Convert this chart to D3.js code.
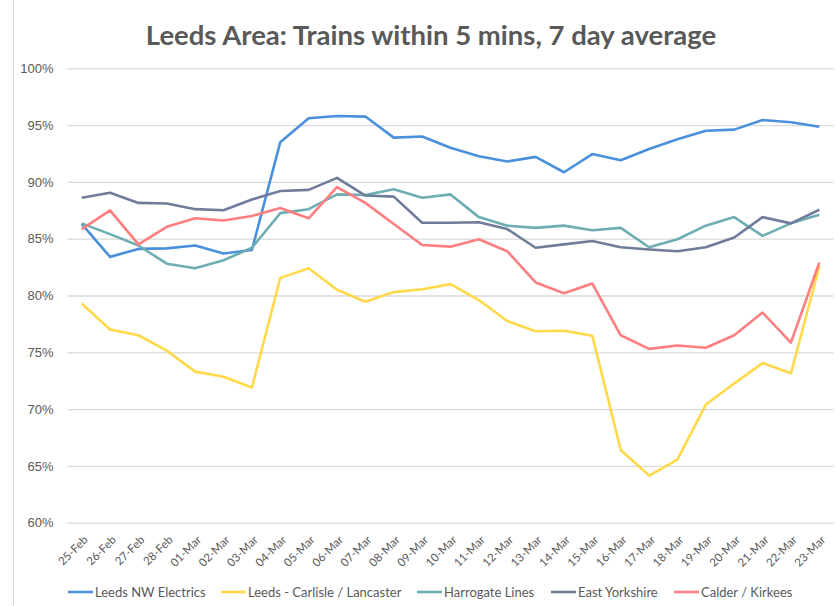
<!DOCTYPE html>
<html>
<head>
<meta charset="utf-8">
<script src="https://cdn.jsdelivr.net/npm/d3@7"></script>
<style>
  body { margin: 0; background: #fff; }
  svg { display: block; font-family: Lato, "Open Sans", sans-serif; }
</style>
</head>
<body>
<div id="chartPlaceholder"></div>
<script>
const dates = ["25-Feb", "26-Feb", "27-Feb", "28-Feb", "01-Mar", "02-Mar", "03-Mar", "04-Mar", "05-Mar",
  "06-Mar", "07-Mar", "08-Mar", "09-Mar", "10-Mar", "11-Mar", "12-Mar", "13-Mar", "14-Mar", "15-Mar",
  "16-Mar", "17-Mar", "18-Mar", "19-Mar", "20-Mar", "21-Mar", "22-Mar", "23-Mar"];

const leedsNW = [86.3, 83.4, 84.1, 84.15, 84.4, 83.7, 84.0, 93.5, 95.6, 95.8, 95.75, 93.9, 94.0, 93.0, 92.25,
  91.8, 92.2, 90.85, 92.45, 91.9, 92.9, 93.75, 94.5, 94.6, 95.45, 95.25, 94.85];
const carlisle = [79.3, 77.0, 76.5, 75.15, 73.3, 72.85, 71.9, 81.55, 82.4, 80.5, 79.45, 80.3, 80.55, 81.0,
  79.6, 77.75, 76.85, 76.9, 76.45, 66.4, 64.15, 65.55, 70.4, 72.25, 74.05, 73.15, 82.55];
const harrogate = [86.35, 85.4, 84.4, 82.8, 82.4, 83.1, 84.2, 87.25, 87.6, 88.9, 88.85, 89.35, 88.6, 88.9,
  86.9, 86.15, 85.95, 86.15, 85.75, 85.95, 84.25, 84.95, 86.15, 86.9, 85.25, 86.35, 87.1];
const eastYorks = [88.6, 89.05, 88.15, 88.1, 87.6, 87.5, 88.45, 89.2, 89.3, 90.35, 88.8, 88.7, 86.4, 86.4,
  86.45, 85.85, 84.2, 84.5, 84.8, 84.25, 84.05, 83.9, 84.25, 85.1, 86.9, 86.35, 87.55];
const calder = [85.85, 87.5, 84.5, 86.05, 86.8, 86.6, 87.0, 87.7, 86.8, 89.55, 88.15, 86.3, 84.45, 84.3,
  84.95, 83.9, 81.15, 80.2, 81.05, 76.5, 75.3, 75.6, 75.4, 76.5, 78.5, 75.85, 82.9];

const seriesNames = ["Leeds NW Electrics", "Leeds - Carlisle / Lancaster", "Harrogate Lines", "East Yorkshire", "Calder / Kirkees"];
const seriesValues = [leedsNW, carlisle, harrogate, eastYorks, calder];
const seriesColors = ["#4a90dc", "#ffd94a", "#6eaeb2", "#6f7d9b", "#ff7e80"];
const yTicks = [60, 65, 70, 75, 80, 85, 90, 95, 100];

const width = 836, height = 606;
const margin = { top: 68.3, right: 2.5, bottom: 606 - 522.7, left: 67.5 };

const svg = d3.select("#chartPlaceholder")
  .append("svg")
  .attr("width", width)
  .attr("height", height);

// chart frame edge on the left
svg.append("line")
  .attr("x1", 13.5).attr("x2", 13.5)
  .attr("y1", 0).attr("y2", height)
  .style("stroke", "#d9d9d9");

svg.append("text")
  .attr("x", 431)
  .attr("y", 45)
  .attr("text-anchor", "middle")
  .style("font-size", "27.5px")
  .style("font-weight", "bold")
  .style("fill", "#595959")
  .text("Leeds Area: Trains within 5 mins, 7 day average");

const x = d3.scalePoint().domain(dates).range([margin.left, width - margin.right]).padding(0.5);
const y = d3.scaleLinear().domain([60, 100]).range([height - margin.bottom, margin.top]);

// gridlines + y labels
const yAxis = svg.append("g")
  .attr("transform", `translate(${margin.left}, 0)`)
  .call(d3.axisLeft(y).tickValues(yTicks).tickFormat((d) => d + "%")
    .tickSize(-(width - margin.left - margin.right)).tickPadding(14));
yAxis.select(".domain").remove();
yAxis.selectAll(".tick line").style("stroke", "#d9d9d9").style("stroke-width", 1.3);
yAxis.selectAll(".tick text").style("font-size", "13px").style("fill", "#595959");

// x labels, rotated
svg.append("g")
  .selectAll("text")
  .data(dates)
  .join("text")
  .attr("transform", (d) => `translate(${x(d) + 4}, ${height - margin.bottom + 15}) rotate(-45)`)
  .attr("text-anchor", "end")
  .attr("dy", "0.35em")
  .style("font-size", "11.5px")
  .style("fill", "#595959")
  .text((d) => d);

const line = d3.line()
  .x((d, i) => x(dates[i]))
  .y((d) => y(d));

svg.append("g")
  .selectAll("path")
  .data(seriesValues)
  .join("path")
  .attr("d", (d) => line(d))
  .style("fill", "none")
  .style("stroke", (d, i) => seriesColors[i])
  .style("stroke-width", 2.6)
  .style("stroke-linejoin", "round");

// legend
const legendX = [68, 221, 417, 551, 674];
const legend = svg.append("g")
  .selectAll("g")
  .data(seriesNames)
  .join("g")
  .attr("transform", (d, i) => `translate(${legendX[i]}, 592)`);
legend.append("line")
  .attr("x1", 0).attr("x2", 25)
  .style("stroke", (d, i) => seriesColors[i])
  .style("stroke-width", 2.6);
legend.append("text")
  .attr("x", 27)
  .attr("dy", "0.35em")
  .style("font-size", "13px")
  .style("fill", "#595959")
  .text((d) => d);
</script>
</body>
</html>
